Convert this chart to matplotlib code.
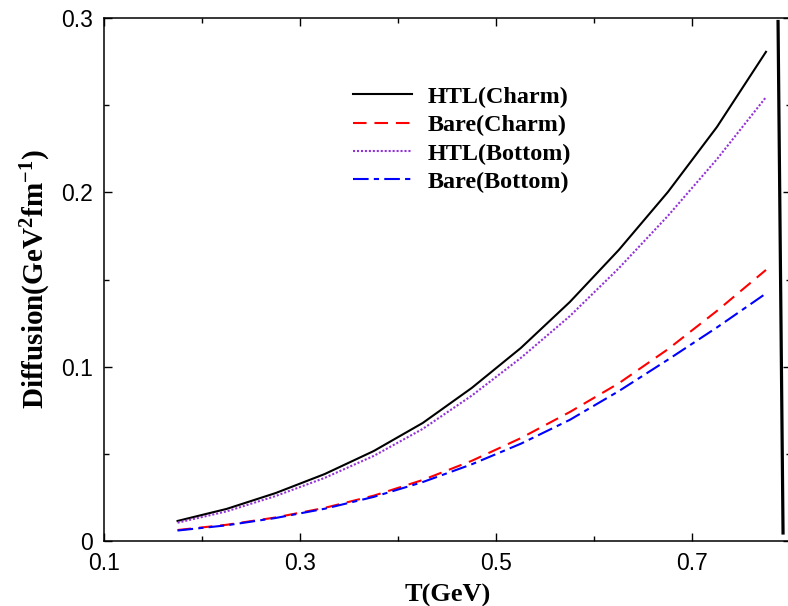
import numpy as np
import matplotlib
matplotlib.use("Agg")
import matplotlib.pyplot as plt

plt.rcParams['mathtext.fontset'] = 'custom'
plt.rcParams['mathtext.rm'] = 'Liberation Serif:bold'
plt.rcParams['mathtext.default'] = 'rm'

# temperature grid (GeV)
T = [0.175, 0.225, 0.275, 0.325, 0.375, 0.425, 0.475, 0.525, 0.575, 0.625, 0.675, 0.725, 0.775]

# diffusion coefficients (GeV^2 fm^-1)
htl_charm = [0.0115, 0.0184, 0.0275, 0.0384, 0.0516, 0.0677, 0.0878, 0.1107, 0.1371, 0.1670, 0.2002, 0.2375, 0.2806]
bare_charm = [0.0063, 0.0093, 0.0135, 0.0190, 0.0260, 0.0350, 0.0460, 0.0590, 0.0740, 0.0905, 0.1100, 0.1320, 0.1555]
htl_bottom = [0.0105, 0.0170, 0.0258, 0.0362, 0.0488, 0.0643, 0.0834, 0.1050, 0.1290, 0.1565, 0.1865, 0.2190, 0.2546]
bare_bottom = [0.0060, 0.0090, 0.0132, 0.0185, 0.0253, 0.0338, 0.0440, 0.0558, 0.0695, 0.0860, 0.1040, 0.1225, 0.1420]

xticks = [0.1, 0.3, 0.5, 0.7]
yticks = [0, 0.1, 0.2, 0.3]
ytick_labels = ["0", "0.1", "0.2", "0.3"]

fig = plt.figure(figsize=(7.88, 6.06), dpi=100)
ax = fig.add_axes([104 / 788, 65 / 606, 686.5 / 788, 523 / 606])

ax.plot(T, htl_charm, color='black', lw=1.5, label='HTL(Charm)')
ax.plot(T, bare_charm, color='#ff0000', lw=1.5, dashes=(6.5, 3.8), label='Bare(Charm)')
ax.plot(T, htl_bottom, color='#9432d8', lw=1.5, linestyle=(0, (1, 0.9)), label='HTL(Bottom)')
ax.plot(T, bare_bottom, color='#0000ff', lw=1.5, dashes=(7.5, 2.5, 2.5, 2.5), label='Bare(Bottom)')

# stray vertical stroke at the right edge
ax.plot([0.7873, 0.7924], [0.298, 0.0046], color='black', lw=2.3, clip_on=False)

ax.set_xlim(0.1, 0.8)
ax.set_ylim(0, 0.3)
ax.set_xticks(xticks)
ax.set_xticklabels([f"{v:.1f}" for v in xticks])
ax.set_xticks([0.2, 0.4, 0.6], minor=True)
ax.set_yticks(yticks)
ax.set_yticklabels(ytick_labels)
ax.set_yticks([0.05, 0.15, 0.25], minor=True)

ax.tick_params(which='both', direction='in', top=True, right=True, width=1.0,
               labelsize=16.5, pad=8)
ax.tick_params(which='major', length=6)
ax.tick_params(which='minor', length=3.3)
for lab in ax.get_xticklabels() + ax.get_yticklabels():
    lab.set_fontfamily('Liberation Sans')
for s in ax.spines.values():
    s.set_linewidth(1.1)

ax.set_xlabel('T(GeV)', fontfamily='Liberation Serif', fontweight='bold', fontsize=19, labelpad=6)
ax.set_ylabel(r'Diffusion(GeV$^2$fm$^{-1}$)', fontfamily='Liberation Serif', fontweight='bold',
              fontsize=21, labelpad=6)

leg = ax.legend(loc='upper left', bbox_to_anchor=(0.3627, 0.870), frameon=False,
                prop={'family': 'Liberation Serif', 'weight': 'bold', 'size': 17.4},
                handlelength=2.45, handletextpad=0.62, labelspacing=0.265,
                borderpad=0, borderaxespad=0)

fig.savefig('out.png', dpi=100)
